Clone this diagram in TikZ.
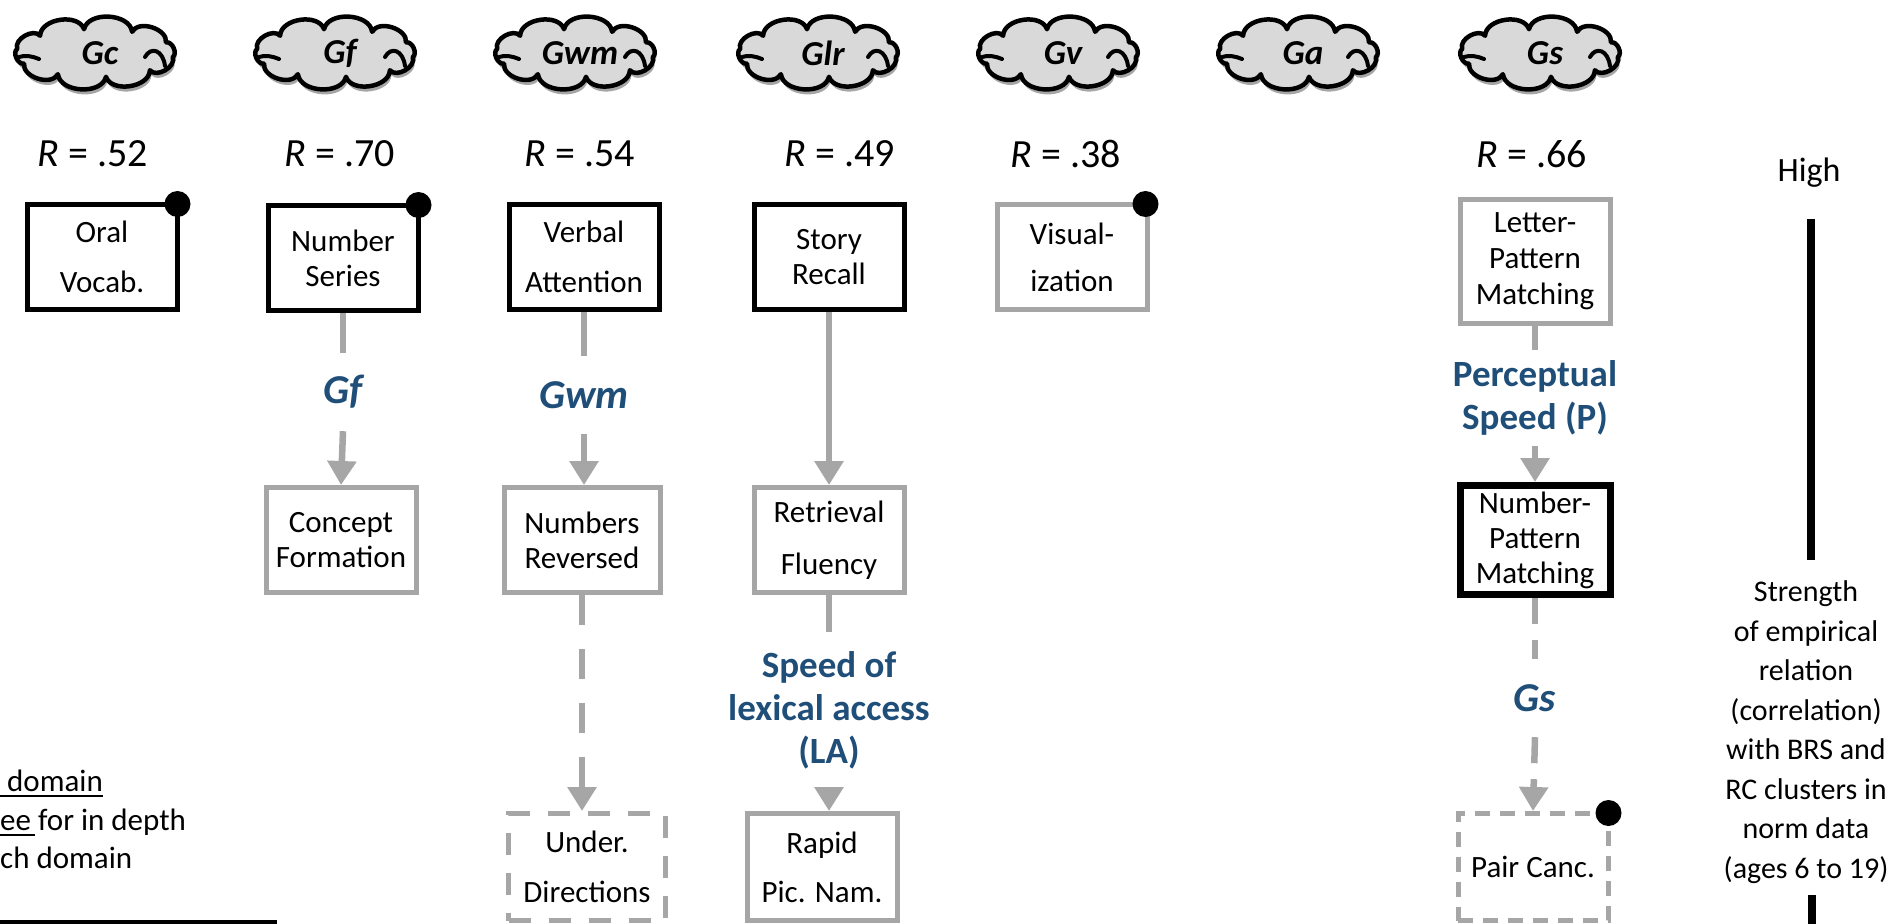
\documentclass[tikz,border=0pt]{standalone}
\usepackage{fontspec}
\setmainfont{Carlito}
\usetikzlibrary{shadows,arrows.meta}
\definecolor{lgray}{RGB}{166,166,166}
\definecolor{dblue}{RGB}{31,78,121}
\definecolor{cfill}{RGB}{217,217,217}
\newcommand{\drawcloud}[3]{%
  \filldraw[cloudpath] ({#2+79*cos(10)},{53+24*sin(10)})
    \foreach \a in {46,82,...,370}{ to[bend left=80] ({#2+79*cos(\a)},{53+24*sin(\a)}) } -- cycle;
  \draw[curl] (#2-76,57) .. controls (#2-70,55) and (#2-63,56) .. (#2-56,59);
  \draw[curl] (#2+50,57) .. controls (#2+56,46) and (#2+68,50) .. (#2+70,66);
  \node[cloudtext] (#1) at (#2+5,53) {#3};
}
\begin{document}
\begin{tikzpicture}[x=1pt,y=-1pt,
  cloudpath/.style={draw=black, line width=4.5pt, fill=cfill, line join=round,
     drop shadow={shadow xshift=1.5pt, shadow yshift=-5pt, opacity=0.35, fill=black}},
  cloudtext/.style={inner sep=0pt, font=\fontsize{35}{38}\selectfont\bfseries\itshape},
  rlab/.style={font=\fontsize{40}{44}\selectfont, inner sep=0pt},
  box/.style={rectangle, line width=5pt, fill=white, minimum width=150pt, minimum height=105pt, align=center, inner sep=0pt},
  blackbox/.style={box, draw=black},
  graybox/.style={box, draw=lgray},
  dashbox/.style={box, draw=lgray, dash pattern=on 22pt off 18pt},
  tight/.style={font=\fontsize{31}{35}\selectfont},
  loose/.style={font=\fontsize{31}{50}\selectfont},
  conn/.style={draw=lgray, line width=6.5pt},
  arr/.style={conn, -{Triangle[width=28pt,length=24pt]}},
  darr/.style={arr, dash pattern=on 30pt off 24pt},
  blab/.style={text=dblue, font=\fontsize{37}{43}\selectfont\bfseries, align=center, inner sep=0pt},
  blabit/.style={text=dblue, font=\fontsize{41}{44}\selectfont\bfseries\itshape, align=center, inner sep=0pt},
  dot/.style={circle, fill=black, minimum size=26pt, inner sep=0pt},
  curl/.style={line width=4pt, line cap=round},
  sidetext/.style={inner sep=0pt},
]
\path[use as bounding box] (0,0) rectangle (1891,924);
\clip (0,0) rectangle (1891,924);
\fill[white] (0,0) rectangle (1891,924);

% clouds
\drawcloud{cgc}{95}{Gc}
\drawcloud{cgf}{335}{Gf}
\drawcloud{cgwm}{575}{Gwm}
\drawcloud{cglr}{818}{Glr}
\drawcloud{cgv}{1058}{Gv}
\drawcloud{cga}{1298}{Ga}
\drawcloud{cgs}{1540}{Gs}

% R values
\node[rlab] (r1) at (93,154)   {\textit{R} = .52};
\node[rlab] (r2) at (340,154)  {\textit{R} = .70};
\node[rlab] (r3) at (580,154)  {\textit{R} = .54};
\node[rlab] (r4) at (840,154)  {\textit{R} = .49};
\node[rlab] (r5) at (1066,154) {\textit{R} = .38};
\node[rlab] (r6) at (1532,154) {\textit{R} = .66};

% first row of boxes
\node[blackbox, loose] (oral)   at (102,257)  {Oral\\Vocab.};
\node[blackbox, tight] (numser) at (343,258)  {Number\\Series};
\node[blackbox, loose] (verbal) at (584,257)  {Verbal\\Attention};
\node[blackbox, tight] (story)  at (829,257)  {Story\\Recall};
\node[graybox, font=\fontsize{31}{47}\selectfont] (visual) at (1072,257) {Visual-\\ization};
\node[graybox, font=\fontsize{31}{36}\selectfont, minimum height=124pt] (letter) at (1535,261) {Letter-\\Pattern\\Matching};

% second row
\node[graybox, tight] (concept) at (341,540) {Concept\\Formation};
\node[graybox, tight, minimum width=156pt] (numrev) at (582,540) {Numbers\\Reversed};
\node[graybox, font=\fontsize{31}{52}\selectfont] (retr) at (829,540) {Retrieval\\Fluency};
\node[blackbox, tight, line width=7pt, minimum height=109pt] (numpat) at (1535,540) {Number-\\Pattern\\Matching};

% third row
\node[dashbox, loose, minimum width=157pt, minimum height=107pt] (under) at (587,867) {Under.\\Directions};
\node[graybox, font=\fontsize{31}{49}\selectfont, minimum height=107pt] (rapid) at (822,867) {Rapid\\Pic. Nam.};
\node[dashbox, tight, dash pattern=on 15pt off 10pt, minimum height=107pt] (pair) at (1533,867) {Pair Canc.};

% dots
\node[dot] (d1) at ([shift={(-2,2)}]oral.north east) {};
\node[dot] (d2) at ([shift={(-2,2)}]numser.north east) {};
\node[dot] (d3) at ([shift={(-4,2)}]visual.north east) {};
\node[dot] (d4) at ([shift={(-2,2)}]pair.north east) {};

% blue labels
\node[blabit, minimum height=78pt] (lgf)  at (343,392) {Gf};
\node[blabit, minimum height=78pt] (lgwm) at (584,395) {Gwm};
\node[blab, minimum height=96pt] (lperc) at (1535,398) {Perceptual\\Speed (P)};
\node[blab, minimum height=156pt] (lla) at (829,710) {Speed of\\lexical access\\(LA)};
\node[blabit, minimum height=78pt] (lgs) at (1535,698) {Gs};

% connectors
\draw[conn] (numser.south) -- (lgf.north);
\draw[arr]  (lgf.south) -- (concept.north);
\draw[conn] (verbal.south) -- (lgwm.north);
\draw[arr]  (lgwm.south) -- (lgwm.south |- numrev.north);
\draw[arr]  (story.south) -- (retr.north);
\draw[darr] (numrev.south) -- (numrev.south |- under.north);
\draw[conn] (retr.south) -- (lla.north);
\draw[arr]  (lla.south) -- (lla.south |- rapid.north);
\draw[conn] (letter.south) -- (lperc.north);
\draw[arr]  (lperc.south) -- (numpat.north);
\draw[conn, dash pattern=on 26pt off 16pt] (numpat.south) -- (lgs.north);
\draw[arr, dash pattern=on 26pt off 16pt] (lgs.south) -- (pair.north);

% right scale
\node[sidetext, font=\fontsize{34}{40}\selectfont] (high) at (1809,173) {High};
\node[sidetext, font=\fontsize{30}{39.5}\selectfont, align=center] (strength) at (1806,732)
  {Strength\\of empirical\\relation\\(correlation)\\with BRS and\\RC clusters in\\norm data\\(ages 6 to 19)};
\coordinate (bartop) at (1811,219);
\coordinate (barbot) at (1811,560);
\draw[line width=8pt] (bartop) -- (barbot);
\coordinate (bar2top) at (1812,895);
\coordinate (bar2bot) at (1812,930);
\draw[line width=8pt] (bar2top) -- (bar2bot);

% bottom-left cut text
\node[sidetext, anchor=base west, font=\fontsize{31}{39}\selectfont] (t1) at (7,791) {domain};
\node[sidetext, anchor=base west, font=\fontsize{31}{39}\selectfont] (t2) at (0,830) {ee for in depth};
\node[sidetext, anchor=base west, font=\fontsize{31}{39}\selectfont] (t3) at (0,868) {ch domain};
\draw[line width=2.2pt] (0,796) -- (t1.base east |- 0,796);
\draw[line width=2.2pt] (0,835) -- (35,835);
\draw[line width=4pt] (0,922) -- (277,922);
\end{tikzpicture}
\end{document}
